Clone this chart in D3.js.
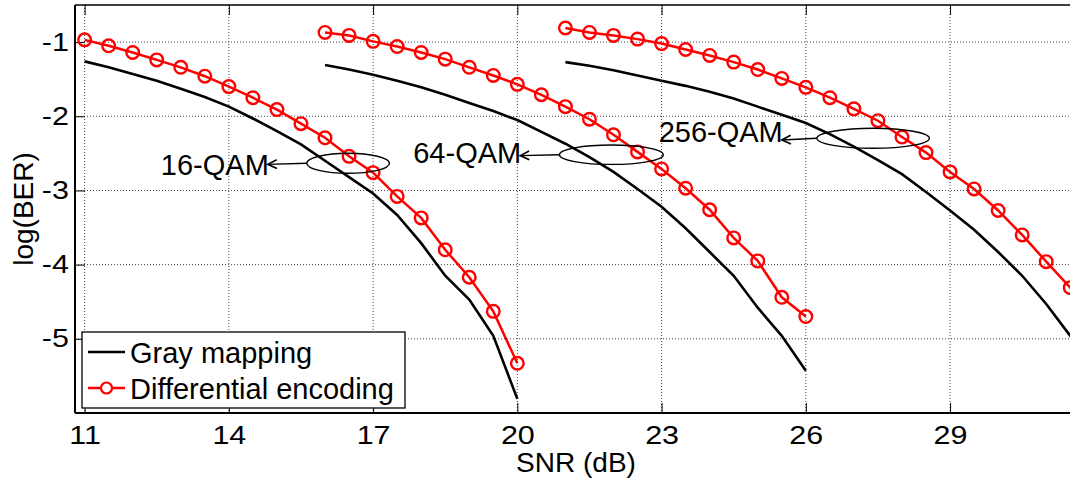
<!DOCTYPE html>
<html><head><meta charset="utf-8">
<script src="https://cdn.jsdelivr.net/npm/d3@7"></script>
<style>body{margin:0;background:#fff;} svg{display:block;}</style>
</head><body>
<svg id="chart" width="1070" height="482"></svg>
<script>
// ---------- data ----------
const snr16  = [11,11.5,12,12.5,13,13.5,14,14.5,15,15.5,16,16.5,17,17.5,18,18.5,19,19.5,20];
const gray16 = [-1.26,-1.34,-1.43,-1.52,-1.63,-1.74,-1.87,-2.03,-2.20,-2.38,-2.60,-2.82,-3.04,-3.33,-3.71,-4.15,-4.47,-4.96,-5.81];
const diff16 = [-0.97,-1.05,-1.14,-1.24,-1.34,-1.46,-1.60,-1.75,-1.91,-2.10,-2.29,-2.54,-2.76,-3.08,-3.37,-3.80,-4.17,-4.63,-5.33];

const snr64  = [16,16.5,17,17.5,18,18.5,19,19.5,20,20.5,21,21.5,22,22.5,23,23.5,24,24.5,25,25.5,26];
const gray64 = [-1.31,-1.37,-1.44,-1.52,-1.61,-1.71,-1.82,-1.93,-2.05,-2.21,-2.37,-2.55,-2.75,-2.98,-3.22,-3.51,-3.83,-4.15,-4.58,-4.96,-5.43];
const diff64 = [-0.87,-0.91,-0.99,-1.06,-1.14,-1.23,-1.34,-1.45,-1.57,-1.71,-1.87,-2.04,-2.25,-2.48,-2.71,-2.97,-3.26,-3.64,-3.95,-4.44,-4.70];

const snr256  = [21,21.5,22,22.5,23,23.5,24,24.5,25,25.5,26,26.5,27,27.5,28,28.5,29,29.5,30,30.5,31,31.5,32];
const gray256 = [-1.27,-1.32,-1.38,-1.45,-1.52,-1.59,-1.67,-1.76,-1.87,-1.98,-2.09,-2.24,-2.41,-2.59,-2.78,-3.02,-3.27,-3.53,-3.83,-4.15,-4.53,-4.96,-5.45];
const diff256 = [-0.81,-0.87,-0.91,-0.96,-1.02,-1.10,-1.18,-1.27,-1.37,-1.49,-1.61,-1.75,-1.90,-2.06,-2.28,-2.49,-2.75,-2.98,-3.27,-3.60,-3.96,-4.31,-4.85];

const xTicks = [11,14,17,20,23,26,29];
const yTicks = [-1,-2,-3,-4,-5];
const seriesNames = ["Gray mapping","Differential encoding"];
const annLabels = ["16-QAM","64-QAM","256-QAM"];
// annotation ellipses (data units): centre x, centre y, radius x, radius y; label end x / baseline y
const annCx = [16.48, 21.955, 27.40];
const annCy = [-2.634, -2.518, -2.297];
const annRx = [0.86, 1.08, 1.17];
const annRy = [0.135, 0.131, 0.135];
const annTextX = [14.81, 20.06, 25.50];
const annTextY = [-2.79, -2.634, -2.351];
const annTipY  = [-2.648, -2.53, -2.32];

// ---------- layout ----------
const L = 75, R = 1077, T = 5, B = 413;
const x = d3.scaleLinear().domain([10.8, 31.64]).range([L, R]);
const y = d3.scaleLinear().domain([-6, -0.5]).range([B, T]);
const svg = d3.select("#chart");
const FONT = "Arial, 'Liberation Sans', Helvetica, sans-serif";

svg.append("defs").append("clipPath").attr("id","clip")
  .append("rect").attr("x",L).attr("y",T).attr("width",R-L).attr("height",B-T);

// grid
const grid = svg.append("g");
grid.selectAll("line.gx").data(xTicks).join("line")
  .attr("x1",d=>x(d)).attr("x2",d=>x(d)).attr("y1",T).attr("y2",B)
  .attr("stroke","#444").attr("stroke-width",1).attr("stroke-dasharray","1,2");
grid.selectAll("line.gy").data(yTicks).join("line")
  .attr("x1",L).attr("x2",R).attr("y1",d=>y(d)).attr("y2",d=>y(d))
  .attr("stroke","#444").attr("stroke-width",1).attr("stroke-dasharray","1,2");

// axes
const xAxis = svg.append("g").attr("transform",`translate(0,${B})`)
  .call(d3.axisBottom(x).tickValues(xTicks).tickSize(-10).tickPadding(13).tickFormat(d=>String(d)));
const xTop = svg.append("g").attr("transform",`translate(0,${T})`)
  .call(d3.axisTop(x).tickValues(xTicks).tickSize(-10).tickFormat(""));
const yAxis = svg.append("g").attr("transform",`translate(${L},0)`)
  .call(d3.axisLeft(y).tickValues(yTicks).tickSize(-10).tickPadding(5).tickFormat(d=>String(d)));
[xAxis,xTop,yAxis].forEach(g=>{
  g.select(".domain").remove();
  g.selectAll(".tick line").attr("stroke","#000").attr("stroke-width",1);
});
xAxis.selectAll("text").attr("font-family",FONT).attr("font-size",25).attr("fill","#000")
  .attr("transform","scale(1.22,1)");
yAxis.selectAll("text").attr("font-family",FONT).attr("font-size",25).attr("fill","#000")
  .attr("transform","scale(1.22,1)");

// box
svg.append("line").attr("x1",L).attr("x2",R).attr("y1",T).attr("y2",T).attr("stroke","#000").attr("stroke-width",1.5);
svg.append("line").attr("x1",L).attr("x2",R).attr("y1",B).attr("y2",B).attr("stroke","#000").attr("stroke-width",2);
svg.append("line").attr("x1",L).attr("x2",L).attr("y1",T).attr("y2",B).attr("stroke","#000").attr("stroke-width",2);

// axis titles
svg.append("text").attr("x",(L+R)/2).attr("y",472).attr("text-anchor","middle")
  .attr("font-family",FONT).attr("font-size",28).text("SNR (dB)");
svg.append("text").attr("transform",`translate(33,${(T+B)/2}) rotate(-90)`).attr("text-anchor","middle")
  .attr("font-family",FONT).attr("font-size",28).text("log(BER)");

// data
const plot = svg.append("g").attr("clip-path","url(#clip)");
const line = d3.line().x(d=>x(d[0])).y(d=>y(d[1]));
const sets = [[snr16,gray16,diff16],[snr64,gray64,diff64],[snr256,gray256,diff256]];
sets.forEach(([s,g,dv])=>{
  const gp = s.map((v,i)=>[v,g[i]]);
  const dp = s.map((v,i)=>[v,dv[i]]);
  plot.append("path").datum(gp).attr("d",line).attr("fill","none").attr("stroke","#000").attr("stroke-width",2.6);
  plot.append("path").datum(dp).attr("d",line).attr("fill","none").attr("stroke","#ff0000").attr("stroke-width",2.5);
  plot.selectAll(null).data(dp).join("circle")
    .attr("cx",d=>x(d[0])).attr("cy",d=>y(d[1])).attr("r",6.3)
    .attr("fill","none").attr("stroke","#ff0000").attr("stroke-width",2.4);
});

// annotations
const ann = svg.append("g");
annLabels.forEach((lab,i)=>{
  const cx = x(annCx[i]), cy = y(annCy[i]);
  const rx = x(annCx[i]+annRx[i]) - cx, ry = cy - y(annCy[i]+annRy[i]);
  ann.append("ellipse").attr("cx",cx).attr("cy",cy).attr("rx",rx).attr("ry",ry)
    .attr("fill","none").attr("stroke","#000").attr("stroke-width",1.4);
  const x0 = cx - rx, y0 = cy, x1 = x(annTextX[i]) , y1 = y(annTipY[i]);
  ann.append("line").attr("x1",x0).attr("y1",y0).attr("x2",x1).attr("y2",y1)
    .attr("stroke","#000").attr("stroke-width",1.4);
  const ang = Math.atan2(y1-y0, x1-x0), hl = 10, ha = 0.45;
  ann.append("path")
    .attr("d",`M${x1-hl*Math.cos(ang-ha)},${y1-hl*Math.sin(ang-ha)} L${x1},${y1} L${x1-hl*Math.cos(ang+ha)},${y1-hl*Math.sin(ang+ha)}`)
    .attr("fill","none").attr("stroke","#000").attr("stroke-width",1.6);
  ann.append("text").attr("x",x(annTextX[i])+1).attr("y",y(annTextY[i])).attr("text-anchor","end")
    .attr("font-family",FONT).attr("font-size",29).attr("fill","#000").text(lab);
});

// legend
const lg = svg.append("g");
lg.append("rect").attr("x",82).attr("y",332).attr("width",323).attr("height",76)
  .attr("fill","#fff").attr("stroke","#000").attr("stroke-width",1.3);
lg.append("line").attr("x1",88).attr("x2",125).attr("y1",352).attr("y2",352).attr("stroke","#000").attr("stroke-width",2.6);
lg.append("line").attr("x1",88).attr("x2",125).attr("y1",388).attr("y2",388).attr("stroke","#ff0000").attr("stroke-width",2.5);
lg.append("circle").attr("cx",106.5).attr("cy",388).attr("r",5.5).attr("fill","#fff").attr("stroke","#ff0000").attr("stroke-width",2.2);
lg.selectAll("text.lt").data(seriesNames).join("text")
  .attr("x",130).attr("y",(d,i)=>i===0?363:398.5)
  .attr("font-family",FONT).attr("font-size",29).attr("fill","#000").text(d=>d);
</script>
</body></html>
